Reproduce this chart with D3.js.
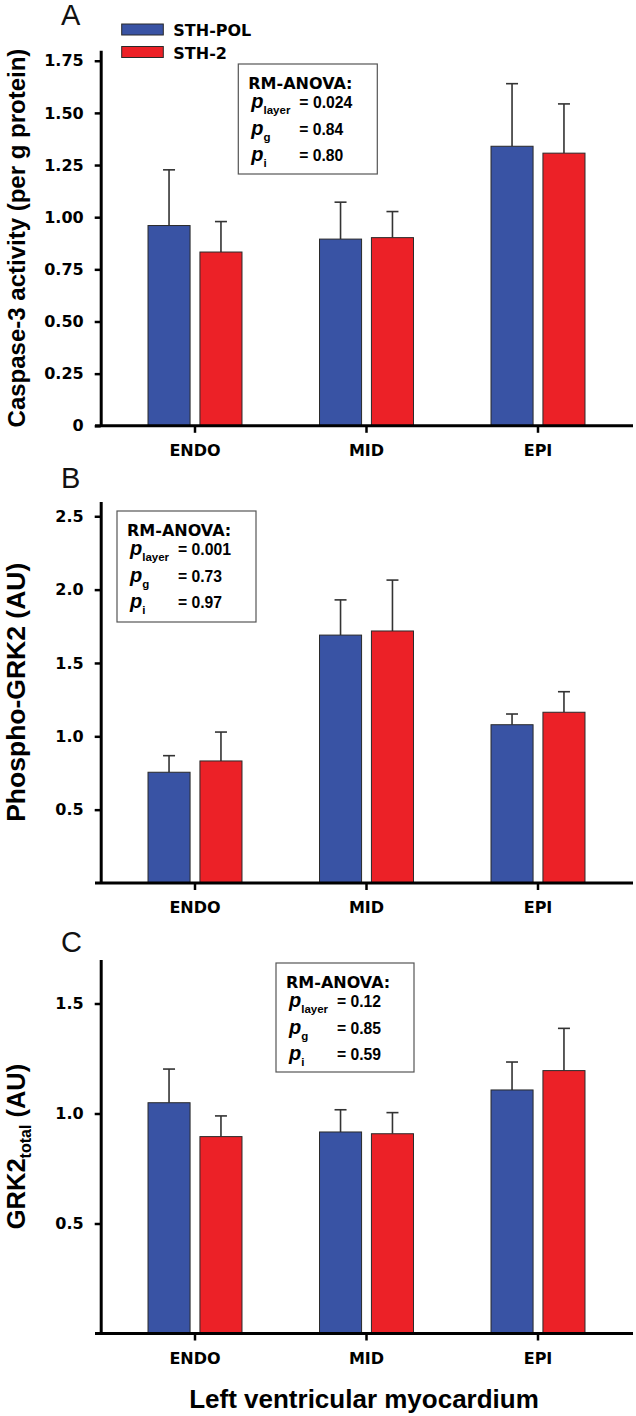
<!DOCTYPE html>
<html>
<head>
<meta charset="utf-8">
<script src="https://cdn.jsdelivr.net/npm/d3@7/dist/d3.min.js"></script>
<style>
  html, body { margin: 0; padding: 0; background: #fff; }
</style>
</head>
<body>
<svg id="chart" width="636" height="1416"></svg>
<script>
// ---------------- DATA ----------------
const categories = ["ENDO", "MID", "EPI"];
const seriesNames = ["STH-POL", "STH-2"];

// Panel A: Caspase-3 activity (per g protein)
const caspasePOL    = [0.96, 0.895, 1.34];
const caspasePOLErr = [0.267, 0.177, 0.30];
const caspaseSTH2    = [0.833, 0.902, 1.307];
const caspaseSTH2Err = [0.146, 0.125, 0.236];

// Panel B: Phospho-GRK2 (AU)
const phosphoPOL    = [0.755, 1.69, 1.079];
const phosphoPOLErr = [0.113, 0.24, 0.073];
const phosphoSTH2    = [0.832, 1.718, 1.164];
const phosphoSTH2Err = [0.197, 0.347, 0.14];

// Panel C: GRK2 total (AU)
const totalPOL    = [1.049, 0.916, 1.107];
const totalPOLErr = [0.153, 0.101, 0.127];
const totalSTH2    = [0.895, 0.908, 1.195];
const totalSTH2Err = [0.094, 0.096, 0.192];

// Tick values / labels
const ticksA = [0, 0.25, 0.5, 0.75, 1.0, 1.25, 1.5, 1.75];
const ticksB = [0.5, 1.0, 1.5, 2.0, 2.5];
const ticksC = [0.5, 1.0, 1.5];

// RM-ANOVA statistics text
const statsA = ["= 0.024", "= 0.84", "= 0.80"];
const statsB = ["= 0.001", "= 0.73", "= 0.97"];
const statsC = ["= 0.12", "= 0.85", "= 0.59"];
const statSubs = ["layer", "g", "i"];

const colors = ["#3953A4", "#EC2127"];

// ---------------- LAYOUT ----------------
const svg = d3.select("#chart");
const axisX = 100.7;
const xLineStart = 95, xLineEnd = 633;
const arialFont = "'Liberation Sans', Arial, Helvetica, sans-serif";
const wideFont = "'DejaVu Sans', Verdana, sans-serif";

const x0 = d3.scaleBand().domain(categories)
  .range([109.25, 623.75]).paddingInner(0.452).paddingOuter(0.226);
const x1 = d3.scaleBand().domain(seriesNames)
  .range([0, x0.bandwidth()]).paddingInner(0.19);

const panels = [
  { letter: "A", letterY: 25, y0: 425.8, yTop: 50.3, max: 1.8, ticks: ticksA,
    fmt: d => d === 0 ? "0" : d3.format(".2f")(d),
    means: [caspasePOL, caspaseSTH2], errs: [caspasePOLErr, caspaseSTH2Err],
    label: [{t: "Caspase-3 activity (per g protein)"}], labelSize: 24,
    box: {x: 238.3, y: 64, w: 139, h: 110}, stats: statsA, legend: true },
  { letter: "B", letterY: 488, y0: 883, yTop: 501.6, max: 2.6, ticks: ticksB,
    fmt: d3.format(".1f"),
    means: [phosphoPOL, phosphoSTH2], errs: [phosphoPOLErr, phosphoSTH2Err],
    label: [{t: "Phospho-GRK2 (AU)"}], labelSize: 26.5,
    box: {x: 117, y: 511, w: 139, h: 111}, stats: statsB },
  { letter: "C", letterY: 951.5, y0: 1333.5, yTop: 959.5, max: 1.7, ticks: ticksC,
    fmt: d3.format(".1f"),
    means: [totalPOL, totalSTH2], errs: [totalPOLErr, totalSTH2Err],
    label: [{t: "GRK2"}, {t: "total", sub: true}, {t: " (AU)", up: true}], labelSize: 25.5,
    box: {x: 276, y: 963, w: 138, h: 109}, stats: statsC, xTitle: true }
];

panels.forEach(p => {
  const g = svg.append("g").style("font-family", arialFont);
  const y = d3.scaleLinear().domain([0, p.max]).range([p.y0, p.yTop]);

  // panel letter
  g.append("text").attr("x", 61).attr("y", p.letterY)
    .attr("font-size", 29).attr("fill", "#111").text(p.letter);

  // bars
  const rows = [];
  categories.forEach((c, i) => {
    seriesNames.forEach((s, j) => {
      rows.push({ cat: c, ser: s, j: j, v: p.means[j][i], e: p.errs[j][i] });
    });
  });

  const bx = d => x0(d.cat) + x1(d.ser);
  // error bars (upper only)
  const eb = g.append("g").attr("stroke", "#333").attr("stroke-width", 1.6);
  eb.selectAll("line.stem").data(rows).join("line")
    .attr("x1", d => bx(d) + x1.bandwidth() / 2).attr("x2", d => bx(d) + x1.bandwidth() / 2)
    .attr("y1", d => y(d.v)).attr("y2", d => y(d.v + d.e));
  eb.selectAll("line.cap").data(rows).join("line")
    .attr("x1", d => bx(d) + x1.bandwidth() / 2 - 6).attr("x2", d => bx(d) + x1.bandwidth() / 2 + 6)
    .attr("y1", d => y(d.v + d.e)).attr("y2", d => y(d.v + d.e));

  g.selectAll("rect.bar").data(rows).join("rect")
    .attr("x", bx).attr("width", x1.bandwidth())
    .attr("y", d => y(d.v)).attr("height", d => y(0) - y(d.v))
    .attr("fill", d => colors[d.j]).attr("stroke", "#2a2a2a").attr("stroke-width", 1);

  // y axis
  const ya = g.append("g").attr("transform", `translate(${axisX},0)`)
    .call(d3.axisLeft(y).tickValues(p.ticks).tickFormat(p.fmt).tickSize(6).tickSizeOuter(0).tickPadding(11));
  ya.select(".domain").attr("stroke", "#000").attr("stroke-width", 3);
  ya.selectAll(".tick line").attr("stroke", "#000").attr("stroke-width", 2.5);
  ya.selectAll(".tick text").attr("font-size", 16).attr("font-weight", "bold").attr("fill", "#000")
    .style("font-family", wideFont);

  // x axis
  g.append("line").attr("x1", xLineStart).attr("x2", xLineEnd)
    .attr("y1", y(0)).attr("y2", y(0)).attr("stroke", "#000").attr("stroke-width", 3);
  const xa = g.append("g").attr("transform", `translate(0,${y(0)})`)
    .call(d3.axisBottom(x0).tickSize(7).tickPadding(12).tickSizeOuter(0));
  xa.select(".domain").remove();
  xa.selectAll(".tick line").attr("stroke", "#000").attr("stroke-width", 2.5);
  xa.selectAll(".tick text").attr("font-size", 16).attr("font-weight", "bold").attr("fill", "#000")
    .style("font-family", wideFont);

  // y title
  const yt = g.append("text")
    .attr("transform", `translate(25,${(p.y0 + p.yTop) / 2}) rotate(-90)`)
    .attr("text-anchor", "middle").attr("font-size", p.labelSize).attr("font-weight", "bold").attr("fill", "#000");
  p.label.forEach(part => {
    const ts = yt.append("tspan").text(part.t);
    if (part.sub) ts.attr("font-size", 16).attr("dy", 6);
    if (part.up) ts.attr("dy", -6);
  });

  // stats box
  const b = p.box;
  const bg = g.append("g").attr("transform", `translate(${b.x},${b.y})`);
  bg.append("rect").attr("width", b.w).attr("height", b.h)
    .attr("fill", "#fff").attr("stroke", "#555").attr("stroke-width", 1.2);
  bg.append("text").attr("x", 10).attr("y", 24.5).attr("font-size", 16).attr("font-weight", "bold")
    .style("font-family", wideFont).text("RM-ANOVA:");
  const rowY = [44, 70.5, 96.5];
  p.stats.forEach((s, i) => {
    const t = bg.append("text").attr("x", 13).attr("y", rowY[i]).attr("font-weight", "bold");
    t.append("tspan").attr("font-size", 20).attr("font-style", "italic").text("p");
    t.append("tspan").attr("font-size", 11.5).attr("dy", 6).text(statSubs[i]);
    bg.append("text").attr("x", 61).attr("y", rowY[i]).attr("font-size", 16).attr("font-weight", "bold")
      .attr("textLength", s.length > 6 ? 53 : 44).attr("lengthAdjust", "spacingAndGlyphs").text(s);
  });

  // legend
  if (p.legend) {
    seriesNames.forEach((s, j) => {
      const ly = 24 + j * 22.5;
      g.append("rect").attr("x", 121.7).attr("y", ly).attr("width", 41.6).attr("height", 11)
        .attr("fill", colors[j]).attr("stroke", "#2a2a2a").attr("stroke-width", 1);
      g.append("text").attr("x", 173.3).attr("y", ly + 12).attr("font-size", 16)
        .style("font-family", wideFont).attr("font-weight", "bold").text(s);
    });
  }

  if (p.xTitle) {
    g.append("text").attr("x", (xLineStart + xLineEnd) / 2).attr("y", 1408)
      .attr("text-anchor", "middle").attr("font-size", 26).attr("font-weight", "bold")
      .text("Left ventricular myocardium");
  }
});
</script>
</body>
</html>
